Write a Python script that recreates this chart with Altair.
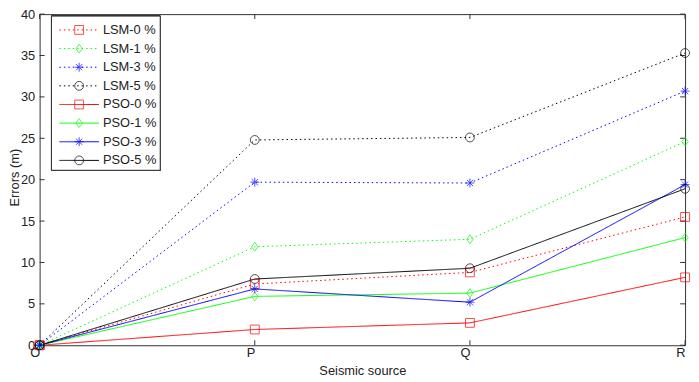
import altair as alt
import pandas as pd

sources = ["O", "P", "Q", "R"]
series = ["LSM-0 %", "LSM-1 %", "LSM-3 %", "LSM-5 %", "PSO-0 %", "PSO-1 %", "PSO-3 %", "PSO-5 %"]
lsm0 = [0, 7.4, 8.8, 15.5]
lsm1 = [0, 11.9, 12.8, 24.6]
lsm3 = [0, 19.7, 19.6, 30.7]
lsm5 = [0, 24.8, 25.1, 35.3]
pso0 = [0, 1.9, 2.7, 8.2]
pso1 = [0, 5.9, 6.3, 13.0]
pso3 = [0, 6.8, 5.2, 19.4]
pso5 = [0, 8.0, 9.3, 18.9]
values = [lsm0, lsm1, lsm3, lsm5, pso0, pso1, pso3, pso5]
y_ticks = [0, 5, 10, 15, 20, 25, 30, 35, 40]

colors = ["#ff0000", "#00ff00", "#0000ff", "#000000"] * 2
dashes = [[1.5, 3]] * 4 + [[1, 0]] * 4
star = "M-1,0L1,0M0,-1L0,1M-0.7,-0.7L0.7,0.7M-0.7,0.7L0.7,-0.7"
diam = "M0,-1L0.72,0L0,1L-0.72,0Z"
shapes = ["square", diam, star, "circle"] * 2

W, H = 653, 335

rows = []
for s, vals in zip(series, values):
    for c, v in zip(sources, vals):
        rows.append({"series": s, "source": c, "err": v})
df = pd.DataFrame(rows)

color_s = alt.Scale(domain=series, range=colors)
dash_s = alt.Scale(domain=series, range=dashes)
shape_s = alt.Scale(domain=series, range=shapes)

xenc = alt.X("source:N", scale=alt.Scale(type="point", domain=sources, padding=0),
             axis=alt.Axis(title="Seismic source", ticks=False, domain=False, labelAngle=0,
                           labelPadding=7, titleY=20, grid=False))
yenc = alt.Y("err:Q", scale=alt.Scale(domain=[0, 40], nice=False, zero=True),
             axis=alt.Axis(title="Errors (m)", values=y_ticks, ticks=False, domain=False,
                           labelPadding=5, titleX=-18, titleY=165, titleBaseline="bottom",
                           grid=False))

base = alt.Chart(df)
lines = base.mark_line(strokeWidth=1, clip=False).encode(
    x=xenc, y=yenc,
    color=alt.Color("series:N", scale=color_s, legend=None),
    strokeDash=alt.StrokeDash("series:N", scale=dash_s, legend=None),
    detail="series:N",
)
points = base.mark_point(filled=False, strokeWidth=1, size=80, clip=False).encode(
    x="source:N", y="err:Q",
    color=alt.Color("series:N", scale=color_s, legend=None),
    shape=alt.Shape("series:N", scale=shape_s, legend=None),
)

ytdf = pd.DataFrame({"v": y_ticks})
ytl = alt.Chart(ytdf).mark_rule(color="#333", strokeWidth=1).encode(
    y="v:Q", x=alt.value(0), x2=alt.value(5))
ytr = alt.Chart(ytdf).mark_rule(color="#333", strokeWidth=1).encode(
    y="v:Q", x=alt.value(W - 5), x2=alt.value(W))
xtdf = pd.DataFrame({"source": sources})
xtb = alt.Chart(xtdf).mark_rule(color="#333", strokeWidth=1).encode(
    x="source:N", y=alt.value(H - 5), y2=alt.value(H))
xtt = alt.Chart(xtdf).mark_rule(color="#333", strokeWidth=1).encode(
    x="source:N", y=alt.value(0), y2=alt.value(5))

main = alt.layer(ytl, ytr, xtb, xtt, lines, points)

ldf = pd.DataFrame({"series": series, "row": list(range(len(series)))})
ly = alt.Y("row:Q", scale=alt.Scale(domain=[0, 7], range=[16, 148], nice=False, zero=False), axis=None)
box = alt.Chart(ldf).mark_rect(fill="white", stroke="#333", strokeWidth=1).encode(
    x=alt.value(12), x2=alt.value(122), y=alt.value(2), y2=alt.value(158))
lrule = alt.Chart(ldf).mark_rule(strokeWidth=1).encode(
    y=ly, x=alt.value(20), x2=alt.value(60),
    color=alt.Color("series:N", scale=color_s, legend=None),
    strokeDash=alt.StrokeDash("series:N", scale=dash_s, legend=None),
)
lpt = alt.Chart(ldf).mark_point(filled=False, strokeWidth=1, size=80).encode(
    y=ly, x=alt.value(40),
    color=alt.Color("series:N", scale=color_s, legend=None),
    shape=alt.Shape("series:N", scale=shape_s, legend=None),
)
ltxt = alt.Chart(ldf).mark_text(align="left", baseline="middle", font="Liberation Sans",
                                fontSize=13, color="#222").encode(
    y=ly, x=alt.value(64), text="series:N")
leg = alt.layer(box, lrule, lpt, ltxt)

chart = alt.layer(main, leg).resolve_scale(y="independent").properties(
    width=W, height=H,
    background="white",
    autosize=alt.AutoSizeParams(type="none"),
    padding={"left": 32, "top": 4, "right": 6, "bottom": 35},
).configure_view(stroke="#333", strokeWidth=1).configure_axis(
    labelFont="Liberation Sans", titleFont="Liberation Sans", labelFontSize=13,
    titleFontSize=13, titleFontWeight="normal", labelColor="#222", titleColor="#222",
)

chart.save("out.html", embed_options={"renderer": "svg", "actions": False})
